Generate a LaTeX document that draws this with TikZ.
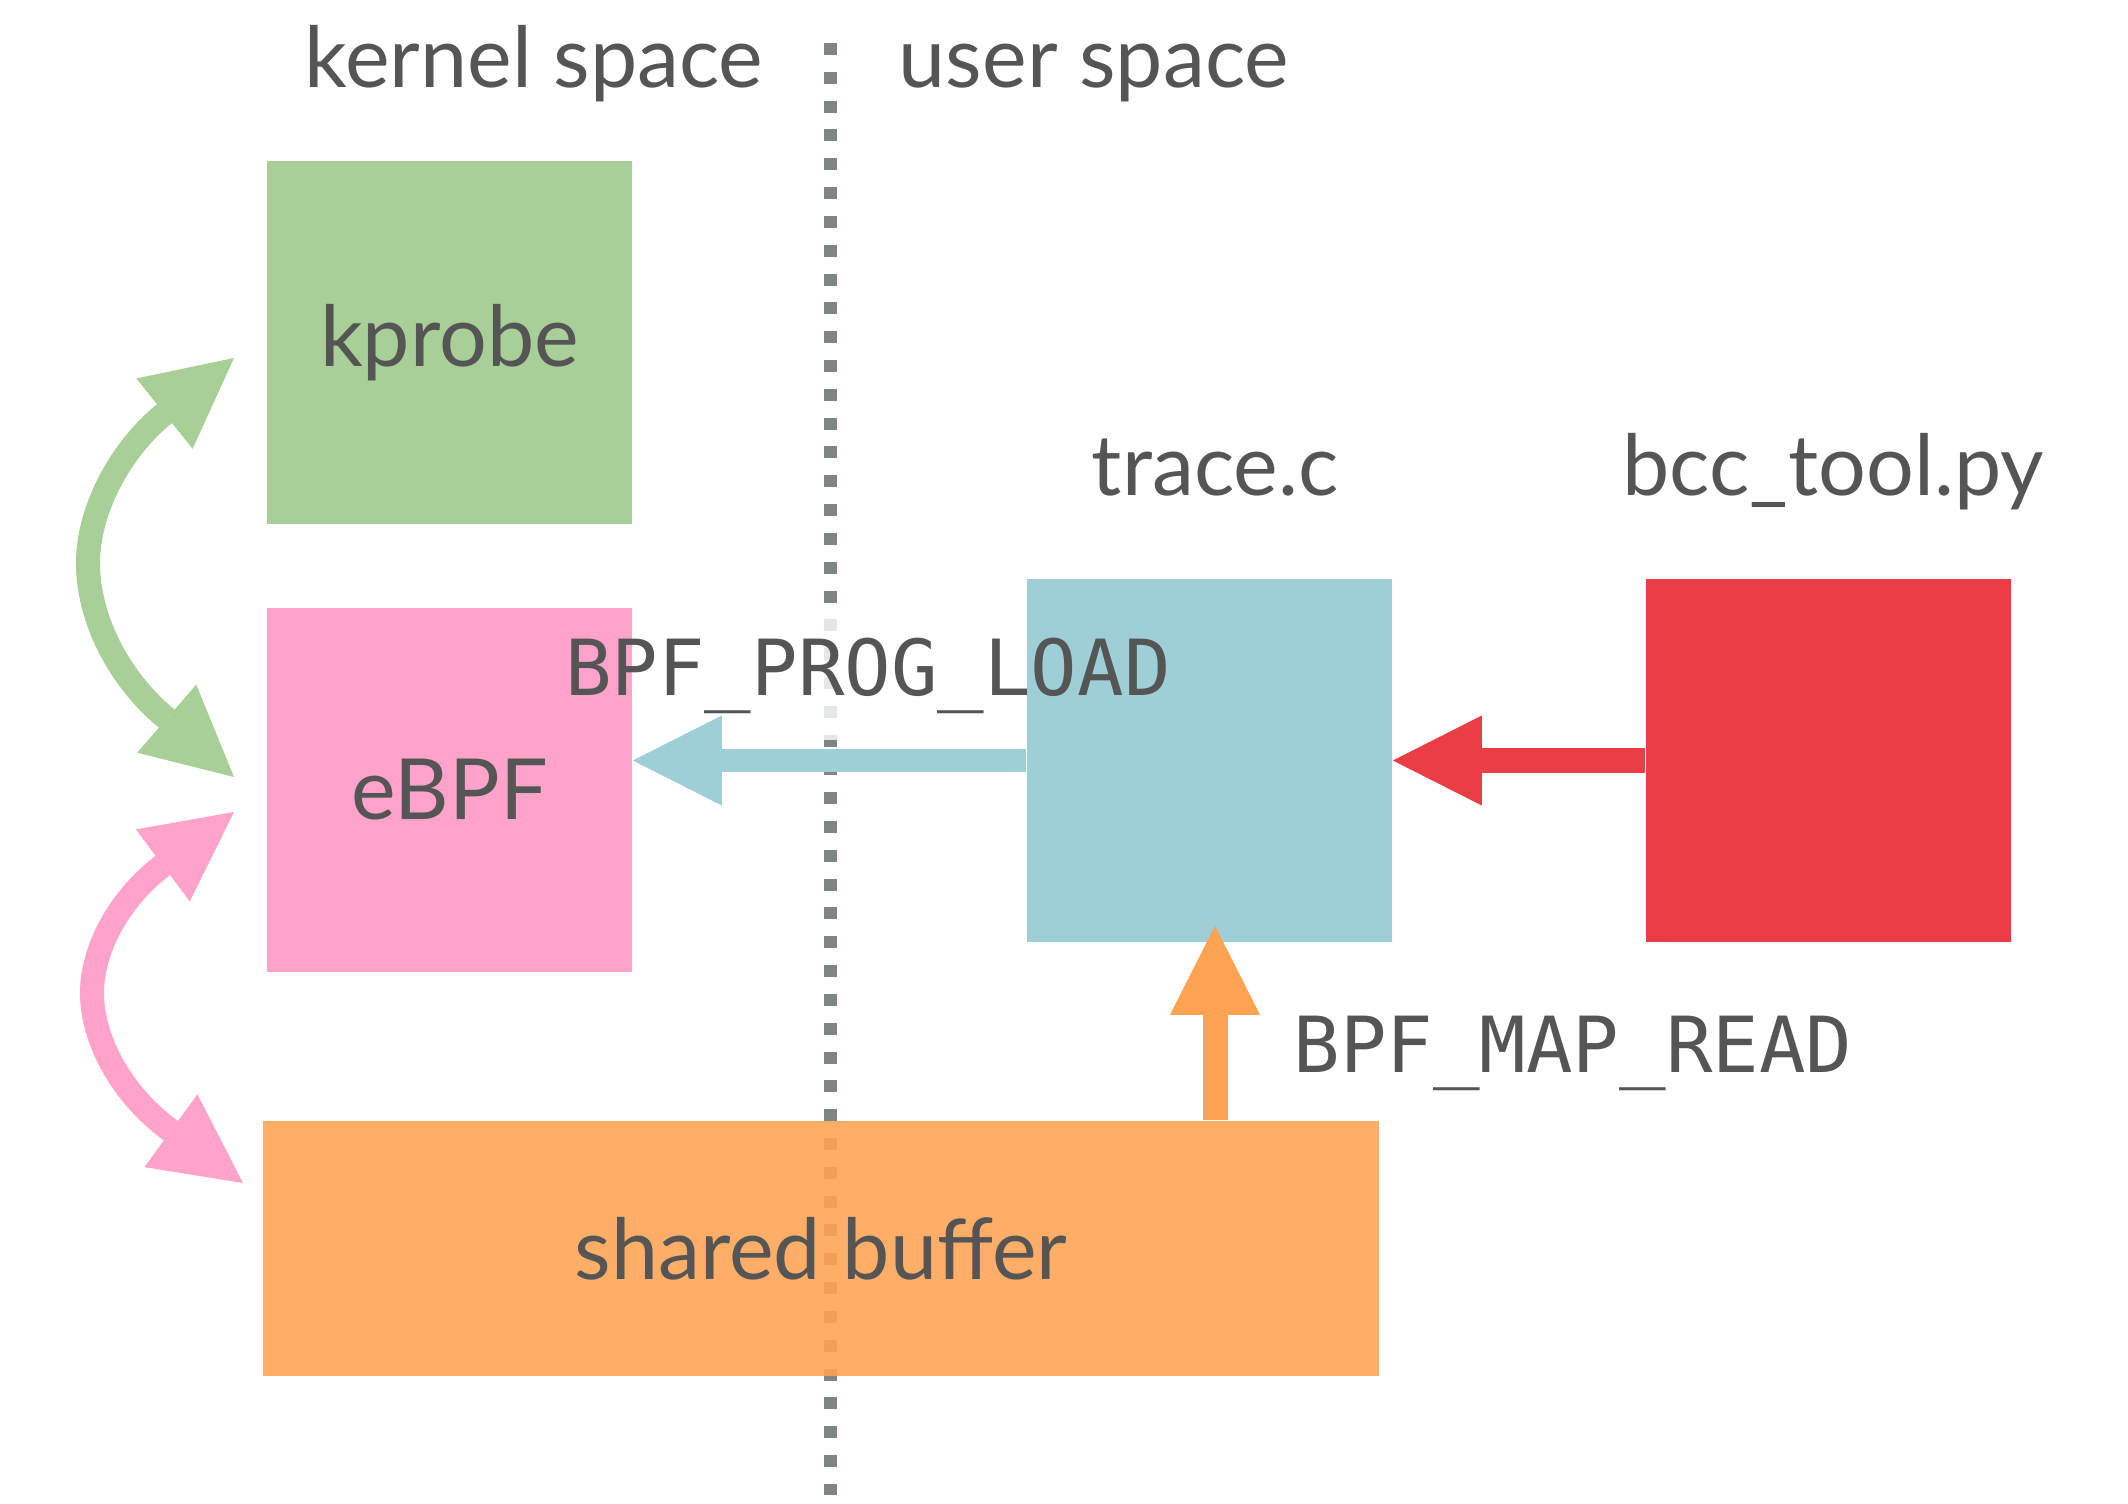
\documentclass[tikz,border=0pt]{standalone}
\usepackage{fontspec}
\setmainfont{Lato}
\setmonofont{DejaVu Sans Mono}
\usetikzlibrary{arrows.meta,calc}
\definecolor{txt}{HTML}{555555}
\definecolor{kgreen}{HTML}{A8CF97}
\definecolor{kpink}{HTML}{FFA3CB}
\definecolor{korange}{HTML}{FFA352}
\definecolor{kblue}{HTML}{9ECED6}
\definecolor{kred}{HTML}{E93E45}
\definecolor{kline}{HTML}{7F8583}
\begin{document}
\begin{tikzpicture}[x=0.01cm,y=-0.01cm,
  box/.style={rectangle, inner sep=0pt, minimum width=3.65cm, minimum height=3.63cm,
    text=txt, font=\fontsize{24}{28}\selectfont},
  lbl/.style={text=txt, inner sep=0pt, anchor=base, font=\fontsize{24}{28}\selectfont},
  code/.style={text=txt, inner sep=0pt, anchor=base, font=\ttfamily\fontsize{22}{26}\selectfont},
  head/.style={Triangle[length=0.89cm,width=0.9cm,line width=0pt]},
  fat/.style={line width=#1, -{Triangle[length=0.89cm,width=0.9cm,line width=0pt]}},
  dbl/.style={line width=0.24cm,
    {Triangle[length=0.89cm,width=0.9cm,line width=0pt]}-{Triangle[length=0.89cm,width=0.9cm,line width=0pt]}},
  divider/.style={draw=kline, line width=0.13cm, dash pattern=on 0.12cm off 0.168cm}
]
\fill[white] (0,0) rectangle (2128,1504);
\useasboundingbox (0,0) rectangle (2128,1504);

% divider line
\coordinate (ltop) at (830,43);
\coordinate (lbot) at (830,1495);
\draw[divider] (ltop) -- (lbot);
% translucent backing of the BPF_PROG_LOAD label
\fill[white, fill opacity=0.8] (559,607) rectangle (1175,740);

% boxes
\node[box, fill=kgreen] (kprobe) at (449.5,342.5) {kprobe};
\node[box, fill=kpink] (ebpf) at (449.5,790) {eBPF};
\node[box, fill=kblue] (trace) at (1209.5,760.5) {};
\node[box, fill=kred] (bcc) at (1828.5,760.5) {};

% arrows
\draw[fat=0.23cm, kblue] (trace.west) -- (trace.west -| ebpf.east);
\draw[fat=0.24cm, kred] (bcc.west) -- (trace.east);

% shared buffer
\node[box, fill=korange, fill opacity=0.88, text opacity=1, minimum width=11.16cm, minimum height=2.55cm]
  (buffer) at (821,1248.5) {shared buffer};
\draw[fat=0.25cm, korange] ($(buffer.north -| trace.south)+(5.5,0)$) -- ($(trace.south)+(5.5,-17)$);

% curved double arrows
\coordinate (g1) at (234,358);
\coordinate (gb1) at (164,414);
\coordinate (gm) at (88,563);
\coordinate (gb2) at (166,718);
\coordinate (g2) at (234,777);
\draw[dbl, kgreen] (g1) -- (gb1) .. controls (120,450) and (88,510) .. (gm)
  .. controls (88,620) and (120,680) .. (gb2) -- (g2);

\coordinate (p1) at (234,812);
\coordinate (pb1) at (162,866);
\coordinate (pm) at (92,993);
\coordinate (pb2) at (170,1130);
\coordinate (p2) at (243,1183);
\draw[dbl, kpink] (p1) -- (pb1) .. controls (118,900) and (92,950) .. (pm)
  .. controls (92,1040) and (122,1095) .. (pb2) -- (p2);

% labels
\node[lbl] (kernel) at (534,88) {kernel space};
\node[lbl] (user) at (1094,88) {user space};
\node[lbl] (tracelbl) at (1215,496) {trace.c};
\node[lbl] (bcclbl) at (1833,496) {bcc\_tool.py};
\node[code] (progload) at (868,696) {BPF\_PROG\_LOAD};
\node[code] (mapread) at (1573,1072) {BPF\_MAP\_READ};
\end{tikzpicture}
\end{document}
